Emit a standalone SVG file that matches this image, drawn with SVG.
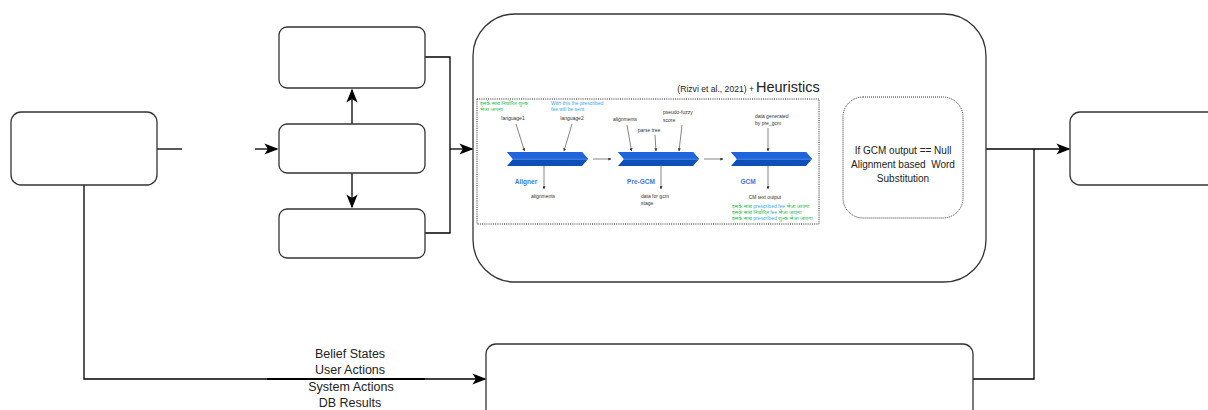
<svg xmlns="http://www.w3.org/2000/svg" width="1208" height="410" viewBox="0 0 1208 410">
<style>
.box{fill:#fff;stroke:#333;stroke-width:1.3}
.ln{fill:none;stroke:#000;stroke-width:1.3}
.thin{fill:none;stroke:#333;stroke-width:0.6}
.t{font-family:"Liberation Sans",Arial,sans-serif;fill:#222}
.s{font-family:"Liberation Sans",Arial,sans-serif;font-size:5px;fill:#333}
.g{font-family:"Noto Sans Devanagari","Noto Sans","Liberation Sans",sans-serif;font-size:5.3px;fill:#1db954}
.b{font-family:"Liberation Sans",Arial,sans-serif;font-size:5px;fill:#3aa8e8}
.lbl{font-family:"Liberation Sans",Arial,sans-serif;font-size:6.5px;font-weight:bold;fill:#3c78d8}
.dot{fill:#fff;stroke:#222;stroke-width:1;stroke-dasharray:1 1.2}
</style>
<defs>
<marker id="ah2" viewBox="0 0 10 10" refX="9" refY="5" markerWidth="14" markerHeight="14" markerUnits="userSpaceOnUse" orient="auto">
<path d="M0,1 L10,5 L0,9 L2.5,5 z" fill="#000"/>
</marker>
<marker id="sm" viewBox="0 0 10 10" refX="9" refY="5" markerWidth="3" markerHeight="3" markerUnits="userSpaceOnUse" orient="auto">
<path d="M0,0 L10,5 L0,10 z" fill="#333"/>
</marker>
<g id="chev">
<polygon points="0,0 75,0 81,7 75,14 0,14 6,7" fill="#0f4fb8"/>
<polygon points="0,0 75,0 81,7 6,7" fill="#1f66dd"/>
<line x1="6" y1="7.3" x2="80.5" y2="7.3" stroke="#7aa8f0" stroke-width="0.6"/>
</g>
</defs>

<g id="connectors">
<path class="ln" d="M157,149 H182"/>
<path class="ln" d="M255,149 H277" marker-end="url(#ah2)"/>
<path class="ln" d="M352,124 V90" marker-end="url(#ah2)"/>
<path class="ln" d="M352,173 V207" marker-end="url(#ah2)"/>
<path class="ln" d="M425,57 H450 V233 H425"/>
<path class="ln" d="M450,149 H472" marker-end="url(#ah2)"/>
<path class="ln" d="M819,158 H842" marker-end="url(#ah2)"/>
<path class="ln" d="M986,149 H1069" marker-end="url(#ah2)"/>
<path class="ln" d="M1034,149 V379 H973"/>
<path class="ln" d="M84,185 V379 H485" marker-end="url(#ah2)"/>
<path d="M267,379 H425" stroke="#000" stroke-width="2"/>
</g>

<g id="left-box"><rect class="box" x="11" y="112" width="146" height="73" rx="10"/></g>
<g id="top-box"><rect class="box" x="279" y="27" width="146" height="61" rx="8"/></g>
<g id="mid-box"><rect class="box" x="279" y="124" width="146" height="49" rx="8"/></g>
<g id="bot-box"><rect class="box" x="279" y="209" width="146" height="49" rx="8"/></g>
<g id="right-box"><rect class="box" x="1070" y="112" width="150" height="73" rx="10"/></g>
<g id="bottom-box"><rect class="box" x="486" y="344" width="487" height="80" rx="10"/></g>

<g id="big-box">
<rect class="box" x="473" y="14" width="513" height="268" rx="42" stroke="#000"/>
<text x="754" y="92" text-anchor="end" class="t" font-size="8.6">(Rizvi et al., 2021) +</text>
<text x="756" y="92" class="t" font-size="14.5">Heuristics</text>
</g>

<g id="pipeline">
<rect class="dot" x="477" y="99" width="342" height="125"/>
<text class="g" x="480" y="105">इसके साथ निर्धारित शुल्क</text>
<text class="g" x="480" y="111">भेजा जाएगा</text>
<text class="b" x="551" y="105">With this the prescribed</text>
<text class="b" x="551" y="111">fee will be sent</text>
<text class="s" x="513" y="120" text-anchor="middle">language1</text>
<text class="s" x="572" y="120" text-anchor="middle">language2</text>
<line class="thin" x1="516" y1="124" x2="524.5" y2="151" marker-end="url(#sm)"/>
<line class="thin" x1="572" y1="124" x2="564" y2="151" marker-end="url(#sm)"/>
<use href="#chev" x="507" y="152"/>
<text class="lbl" x="526" y="184" text-anchor="middle">Aligner</text>
<line class="thin" x1="544" y1="166" x2="544" y2="189" marker-end="url(#sm)"/>
<text class="s" x="543" y="198" text-anchor="middle">alignments</text>
<line class="thin" x1="593" y1="159" x2="611" y2="159" marker-end="url(#sm)"/>

<text class="s" x="625" y="121" text-anchor="middle">alignments</text>
<text class="s" x="649" y="132" text-anchor="middle">parse tree</text>
<text class="s" x="663" y="114">pseudo-fuzzy</text>
<text class="s" x="663" y="122">score</text>
<line class="thin" x1="627" y1="125" x2="631.5" y2="151" marker-end="url(#sm)"/>
<line class="thin" x1="655" y1="135" x2="656" y2="151" marker-end="url(#sm)"/>
<line class="thin" x1="682" y1="125" x2="679" y2="151" marker-end="url(#sm)"/>
<use href="#chev" x="618" y="152"/>
<text class="lbl" x="641" y="184" text-anchor="middle">Pre-GCM</text>
<line class="thin" x1="661" y1="166" x2="661" y2="189" marker-end="url(#sm)"/>
<text class="s" x="641" y="198">data for gcm</text>
<text class="s" x="641" y="205">stage</text>
<line class="thin" x1="704" y1="159" x2="723" y2="159" marker-end="url(#sm)"/>

<text class="s" x="755" y="118">data generated</text>
<text class="s" x="755" y="125">by pre_gcm</text>
<line class="thin" x1="768" y1="128" x2="768" y2="151" marker-end="url(#sm)"/>
<use href="#chev" x="731" y="152"/>
<text class="lbl" x="748" y="184" text-anchor="middle">GCM</text>
<line class="thin" x1="768" y1="166" x2="768" y2="189" marker-end="url(#sm)"/>
<text class="s" x="765" y="199" text-anchor="middle">CM text output</text>
<text x="732" y="208"><tspan class="g">इसके साथ </tspan><tspan class="b">prescribed fee </tspan><tspan class="g">भेजा जाएगा</tspan></text>
<text x="732" y="214"><tspan class="g">इसके साथ निर्धारित </tspan><tspan class="b">fee </tspan><tspan class="g">भेजा जाएगा</tspan></text>
<text x="732" y="220"><tspan class="g">इसके साथ </tspan><tspan class="b">prescribed </tspan><tspan class="g">शुल्क भेजा जाएगा</tspan></text>
</g>

<g id="substitution">
<rect x="843" y="97" width="120" height="121" rx="20" fill="#fff" stroke="#333" stroke-width="1" stroke-dasharray="1 1"/>
<text class="t" x="903" y="154" font-size="10" text-anchor="middle">If GCM output == Null</text>
<text class="t" x="903" y="168" font-size="10" text-anchor="middle" xml:space="preserve">Alignment based  Word</text>
<text class="t" x="903" y="182" font-size="10" text-anchor="middle">Substitution</text>
</g>

<g id="edge-label" class="t" font-size="12.5" text-anchor="middle">
<text x="350" y="358">Belief States</text>
<text x="350" y="374">User Actions</text>
<text x="351" y="391">System Actions</text>
<text x="350" y="407">DB Results</text>
</g>
</svg>
